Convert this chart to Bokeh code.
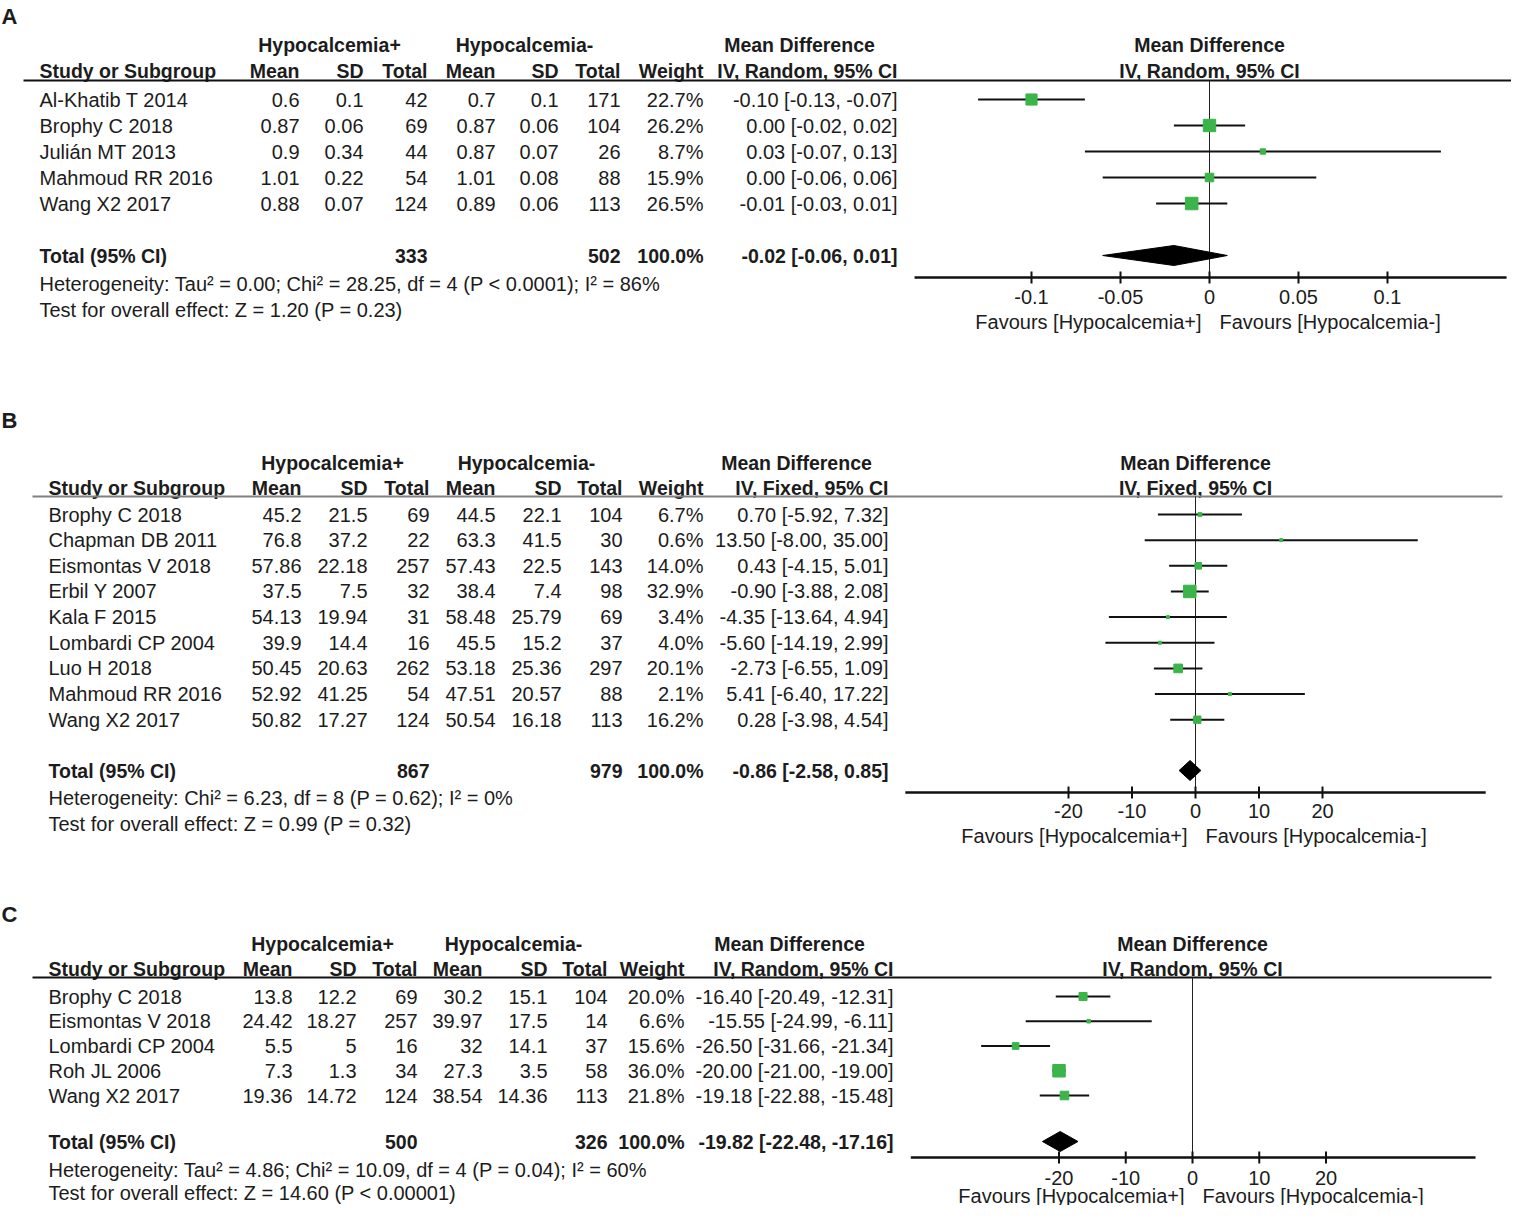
from bokeh.plotting import figure
from bokeh.models import Range1d
from bokeh.core.properties import value
from bokeh.embed import file_html
from bokeh.resources import INLINE

# ---------------- Data: panel A ----------------
A_study = ["Al-Khatib T 2014", "Brophy C 2018", "Julián MT 2013", "Mahmoud RR 2016", "Wang X2 2017"]
A_mean1 = [0.6, 0.87, 0.9, 1.01, 0.88]
A_sd1 = [0.1, 0.06, 0.34, 0.22, 0.07]
A_n1 = [42, 69, 44, 54, 124]
A_mean2 = [0.7, 0.87, 0.87, 1.01, 0.89]
A_sd2 = [0.1, 0.06, 0.07, 0.08, 0.06]
A_n2 = [171, 104, 26, 88, 113]
A_weight = [22.7, 26.2, 8.7, 15.9, 26.5]
A_md = [-0.10, 0.00, 0.03, 0.00, -0.01]
A_lo = [-0.13, -0.02, -0.07, -0.06, -0.03]
A_hi = [-0.07, 0.02, 0.13, 0.06, 0.01]
A_total_n1 = 333
A_total_n2 = 502
A_total_ci = [-0.02, -0.06, 0.01]
A_method = "IV, Random, 95% CI"
A_het = "Heterogeneity: Tau² = 0.00; Chi² = 28.25, df = 4 (P < 0.0001); I² = 86%"
A_test = "Test for overall effect: Z = 1.20 (P = 0.23)"
A_ticks = [-0.1, -0.05, 0, 0.05, 0.1]
A_tick_labels = ["-0.1", "-0.05", "0", "0.05", "0.1"]

# ---------------- Data: panel B ----------------
B_study = ["Brophy C 2018", "Chapman DB 2011", "Eismontas V 2018", "Erbil Y 2007", "Kala F 2015",
           "Lombardi CP 2004", "Luo H 2018", "Mahmoud RR 2016", "Wang X2 2017"]
B_mean1 = [45.2, 76.8, 57.86, 37.5, 54.13, 39.9, 50.45, 52.92, 50.82]
B_sd1 = [21.5, 37.2, 22.18, 7.5, 19.94, 14.4, 20.63, 41.25, 17.27]
B_n1 = [69, 22, 257, 32, 31, 16, 262, 54, 124]
B_mean2 = [44.5, 63.3, 57.43, 38.4, 58.48, 45.5, 53.18, 47.51, 50.54]
B_sd2 = [22.1, 41.5, 22.5, 7.4, 25.79, 15.2, 25.36, 20.57, 16.18]
B_n2 = [104, 30, 143, 98, 69, 37, 297, 88, 113]
B_weight = [6.7, 0.6, 14.0, 32.9, 3.4, 4.0, 20.1, 2.1, 16.2]
B_md = [0.70, 13.50, 0.43, -0.90, -4.35, -5.60, -2.73, 5.41, 0.28]
B_lo = [-5.92, -8.00, -4.15, -3.88, -13.64, -14.19, -6.55, -6.40, -3.98]
B_hi = [7.32, 35.00, 5.01, 2.08, 4.94, 2.99, 1.09, 17.22, 4.54]
B_total_n1 = 867
B_total_n2 = 979
B_total_ci = [-0.86, -2.58, 0.85]
B_method = "IV, Fixed, 95% CI"
B_het = "Heterogeneity: Chi² = 6.23, df = 8 (P = 0.62); I² = 0%"
B_test = "Test for overall effect: Z = 0.99 (P = 0.32)"
B_ticks = [-20, -10, 0, 10, 20]
B_tick_labels = ["-20", "-10", "0", "10", "20"]

# ---------------- Data: panel C ----------------
C_study = ["Brophy C 2018", "Eismontas V 2018", "Lombardi CP 2004", "Roh JL 2006", "Wang X2 2017"]
C_mean1 = [13.8, 24.42, 5.5, 7.3, 19.36]
C_sd1 = [12.2, 18.27, 5, 1.3, 14.72]
C_n1 = [69, 257, 16, 34, 124]
C_mean2 = [30.2, 39.97, 32, 27.3, 38.54]
C_sd2 = [15.1, 17.5, 14.1, 3.5, 14.36]
C_n2 = [104, 14, 37, 58, 113]
C_weight = [20.0, 6.6, 15.6, 36.0, 21.8]
C_md = [-16.40, -15.55, -26.50, -20.00, -19.18]
C_lo = [-20.49, -24.99, -31.66, -21.00, -22.88]
C_hi = [-12.31, -6.11, -21.34, -19.00, -15.48]
C_total_n1 = 500
C_total_n2 = 326
C_total_ci = [-19.82, -22.48, -17.16]
C_method = "IV, Random, 95% CI"
C_het = "Heterogeneity: Tau² = 4.86; Chi² = 10.09, df = 4 (P = 0.04); I² = 60%"
C_test = "Test for overall effect: Z = 14.60 (P < 0.00001)"
C_ticks = [-20, -10, 0, 10, 20]
C_tick_labels = ["-20", "-10", "0", "10", "20"]

# ---------------- Layout / style ----------------
FONT = value("Liberation Sans")
FS = "20px"
FSB = "19.5px"
TXT = "#1c1c1c"
GREEN = "#3bb44a"
X0, X1, Y0, Y1 = 0, 1511, 0, 1205

LAYOUT = {
    "A": dict(letter_y=16, h1=44, h2=70, line_y=80, line_x0=23, line_x1=1523, line_color="#111111",
              row0=99, step=26.0, total_y=255, het_y=283, test_y=309,
              cols=[39, 299, 363, 427, 495, 558, 620, 703, 897], hyp1=329, hyp2=524, mdc=799,
              zero=1209, ppu=1780.0, ax=(-0.1657, 0.1669), axis_y=277, tick_y=296, fav_y=321),
    "B": dict(letter_y=420, h1=462, h2=487, line_y=496, line_x0=32, line_x1=1502, line_color="#808080",
              row0=514, step=25.65, total_y=770, het_y=797, test_y=823,
              cols=[48, 301, 367, 429, 495, 561, 622, 703, 888], hyp1=332, hyp2=526, mdc=796,
              zero=1195, ppu=6.35, ax=(-45.7, 45.7), axis_y=792, tick_y=810, fav_y=835),
    "C": dict(letter_y=914, h1=943, h2=968, line_y=977, line_x0=32, line_x1=1491, line_color="#111111",
              row0=996, step=24.75, total_y=1141, het_y=1169, test_y=1192,
              cols=[48, 292, 356, 417, 482, 547, 607, 684, 893], hyp1=322, hyp2=513, mdc=789,
              zero=1192, ppu=6.675, ax=(-42.2, 42.4), axis_y=1157, tick_y=1177, fav_y=1195),
}

DATA = {
    "A": dict(study=A_study, m1=A_mean1, s1=A_sd1, n1=A_n1, m2=A_mean2, s2=A_sd2, n2=A_n2, w=A_weight,
              md=A_md, lo=A_lo, hi=A_hi, tn1=A_total_n1, tn2=A_total_n2, tci=A_total_ci,
              method=A_method, het=A_het, test=A_test, ticks=A_ticks, tlabels=A_tick_labels),
    "B": dict(study=B_study, m1=B_mean1, s1=B_sd1, n1=B_n1, m2=B_mean2, s2=B_sd2, n2=B_n2, w=B_weight,
              md=B_md, lo=B_lo, hi=B_hi, tn1=B_total_n1, tn2=B_total_n2, tci=B_total_ci,
              method=B_method, het=B_het, test=B_test, ticks=B_ticks, tlabels=B_tick_labels),
    "C": dict(study=C_study, m1=C_mean1, s1=C_sd1, n1=C_n1, m2=C_mean2, s2=C_sd2, n2=C_n2, w=C_weight,
              md=C_md, lo=C_lo, hi=C_hi, tn1=C_total_n1, tn2=C_total_n2, tci=C_total_ci,
              method=C_method, het=C_het, test=C_test, ticks=C_ticks, tlabels=C_tick_labels),
}

p = figure(width=X1 - X0, height=Y1 - Y0, x_range=Range1d(X0, X1), y_range=Range1d(Y1, Y0),
           output_backend="svg", toolbar_location=None, min_border=0,
           x_axis_type=None, y_axis_type=None)
p.grid.visible = False
p.outline_line_color = None
p.background_fill_color = "white"
p.border_fill_color = "white"

p.extra_x_ranges = {k: Range1d((X0 - L["zero"]) / L["ppu"], (X1 - L["zero"]) / L["ppu"])
                    for k, L in LAYOUT.items()}


def txt(xs, ys, texts, align="left", bold=False, size=None, rng="default", x_offset=0):
    if size is None:
        size = FSB if bold else FS
    p.text(x=list(xs), y=list(ys), text=list(texts), text_font=FONT, text_font_size=size,
           text_font_style="bold" if bold else "normal", text_align=align,
           text_baseline="middle", text_color=TXT, x_range_name=rng, x_offset=x_offset)


def fmt(v):
    return f"{v:g}"


def ci(md, lo, hi):
    return f"{md:.2f} [{lo:.2f}, {hi:.2f}]"


def panel(key):
    d, L = DATA[key], LAYOUT[key]
    c = L["cols"]
    n = len(d["study"])
    ys = [L["row0"] + i * L["step"] for i in range(n)]

    # panel letter
    txt([1], [L["letter_y"]], [key], bold=True, size="22px")

    # headers
    txt([L["hyp1"], L["hyp2"], L["mdc"]], [L["h1"]] * 3,
        ["Hypocalcemia+", "Hypocalcemia-", "Mean Difference"], align="center", bold=True)
    txt([c[0]], [L["h2"]], ["Study or Subgroup"], bold=True)
    txt(c[1:], [L["h2"]] * 8, ["Mean", "SD", "Total", "Mean", "SD", "Total", "Weight", d["method"]],
        align="right", bold=True)
    txt([0, 0], [L["h1"], L["h2"]], ["Mean Difference", d["method"]], align="center", bold=True, rng=key)
    p.segment(x0=[L["line_x0"]], x1=[L["line_x1"]], y0=[L["line_y"]], y1=[L["line_y"]],
              line_color=L["line_color"], line_width=2)

    # study rows
    txt([c[0]] * n, ys, d["study"])
    cols_vals = [
        [fmt(v) for v in d["m1"]], [fmt(v) for v in d["s1"]], [str(v) for v in d["n1"]],
        [fmt(v) for v in d["m2"]], [fmt(v) for v in d["s2"]], [str(v) for v in d["n2"]],
        [f"{w:.1f}%" for w in d["w"]],
        [ci(m, l, h) for m, l, h in zip(d["md"], d["lo"], d["hi"])],
    ]
    for cx, vals in zip(c[1:], cols_vals):
        txt([cx] * n, ys, vals, align="right")

    # total row
    est, tlo, thi = d["tci"]
    ty = L["total_y"]
    txt([c[0]], [ty], ["Total (95% CI)"], bold=True)
    txt([c[3], c[6], c[7], c[8]], [ty] * 4,
        [str(d["tn1"]), str(d["tn2"]), "100.0%", ci(est, tlo, thi)], align="right", bold=True)
    txt([c[0], c[0]], [L["het_y"], L["test_y"]], [d["het"], d["test"]])

    # forest: zero line
    ay = L["axis_y"]
    p.segment(x0=[0], x1=[0], y0=[L["line_y"]], y1=[ay], x_range_name=key,
              line_color="#222222", line_width=1)
    # confidence intervals
    p.segment(x0=d["lo"], x1=d["hi"], y0=ys, y1=ys, x_range_name=key,
              line_color="#111111", line_width=2)
    # weight squares
    wmax = max(d["w"])
    sizes = [max(3.0, 12.5 * (w / wmax) ** 0.75) for w in d["w"]]
    p.scatter(x=d["md"], y=ys, size=sizes, marker="square", fill_color=GREEN,
              line_color=GREEN, x_range_name=key)
    # pooled diamond
    p.patch(x=[tlo, est, thi, est], y=[ty, ty - 10, ty, ty + 10], x_range_name=key,
            fill_color="black", line_color="black", line_width=1)

    # axis
    lo_ax, hi_ax = L["ax"]
    p.segment(x0=[lo_ax], x1=[hi_ax], y0=[ay], y1=[ay], x_range_name=key,
              line_color="#111111", line_width=2.5)
    nt = len(d["ticks"])
    p.segment(x0=d["ticks"], x1=d["ticks"], y0=[ay - 6] * nt, y1=[ay + 6] * nt, x_range_name=key,
              line_color="#111111", line_width=2)
    txt(d["ticks"], [L["tick_y"]] * nt, d["tlabels"], align="center", rng=key)
    txt([0], [L["fav_y"]], ["Favours [Hypocalcemia+]"], align="right", rng=key, x_offset=-8)
    txt([0], [L["fav_y"]], ["Favours [Hypocalcemia-]"], align="left", rng=key, x_offset=10)


for k in ["A", "B", "C"]:
    panel(k)

open("out.html", "w").write(file_html(p, INLINE))
